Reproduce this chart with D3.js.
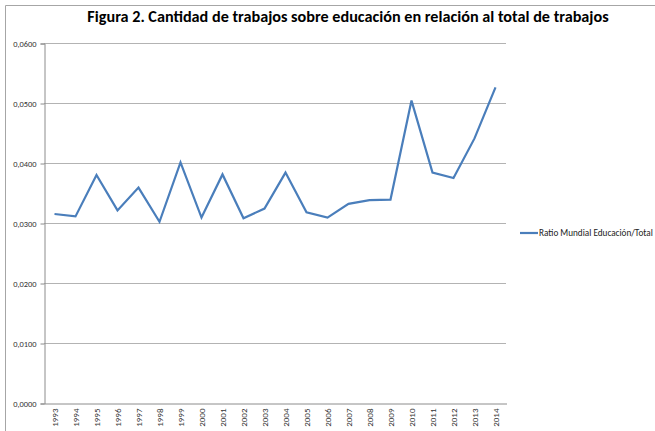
<!DOCTYPE html>
<html><head><meta charset="utf-8">
<script src="https://cdn.jsdelivr.net/npm/d3@7"></script>
<style>body{margin:0;background:#fff;} svg{display:block;}</style>
</head><body>
<svg id="c" width="655" height="431"></svg>
<script>
const years = ["1993","1994","1995","1996","1997","1998","1999","2000","2001","2002","2003","2004","2005","2006","2007","2008","2009","2010","2011","2012","2013","2014"];
const ratio = [0.0315,0.0311,0.0380,0.0321,0.0359,0.0302,0.0401,0.0309,0.0381,0.0308,0.0324,0.0384,0.0318,0.0309,0.0332,0.0338,0.0339,0.0504,0.0384,0.0375,0.0441,0.0526];
const yTicks = [0,0.01,0.02,0.03,0.04,0.05,0.06];
const seriesName = "Ratio Mundial Educación/Total";
const title = "Figura 2. Cantidad de trabajos sobre educación en relación al total de trabajos";

const svg = d3.select("#c");
const font = "Carlito, Lato, 'Open Sans', sans-serif";
const m = {l:44, r:506, t:43, b:403};

// outer border (top and left)
svg.append("path").attr("d","M5.5,431 V5.5 H655").attr("fill","none").attr("stroke","#a6a6a6").attr("stroke-width",1);

svg.append("text").attr("x",348).attr("y",22).attr("text-anchor","middle")
  .attr("font-family",font).attr("font-weight","bold").attr("font-size",16.2).attr("fill","#000").text(title);

const x = d3.scaleBand().domain(years).range([m.l,m.r]);
const y = d3.scaleLinear().domain([0,0.06]).range([m.b,m.t]);

// gridlines
svg.append("g").selectAll("line").data(yTicks.filter(d=>d>0)).join("line")
  .attr("x1",m.l).attr("x2",m.r).attr("y1",d=>y(d)+0.5).attr("y2",d=>y(d)+0.5)
  .attr("stroke","#b3b3b3").attr("stroke-width",1);

// y axis
const fmt = d => d.toFixed(4).replace(".",",");
const ya = svg.append("g").attr("transform",`translate(${m.l+0.5},0.5)`)
  .call(d3.axisLeft(y).tickValues(yTicks).tickFormat(fmt).tickSize(4).tickPadding(4));
ya.select(".domain").attr("stroke","#8c8c8c");
ya.selectAll(".tick line").attr("stroke","#8c8c8c");
ya.selectAll("text").attr("font-family",font).attr("font-size",8.4).attr("fill","#333");

// x axis
const xa = svg.append("g").attr("transform",`translate(0.5,${m.b+0.5})`)
  .call(d3.axisBottom(x).tickSize(0).tickPadding(0));
xa.select(".domain").attr("stroke","#8c8c8c");
xa.selectAll(".tick text").attr("font-family",font).attr("font-size",9).attr("fill","#333")
  .attr("transform","rotate(-90)").attr("text-anchor","end").attr("dx","-5").attr("dy","0.32em")
  .attr("x",0).attr("y",0);

// line
const line = d3.line().x((d,i)=>x(years[i])+x.bandwidth()/2).y(d=>y(d));
svg.append("path").datum(ratio).attr("d",line).attr("fill","none")
  .attr("stroke","#4a7ebb").attr("stroke-width",2.2).attr("stroke-linejoin","miter");

// legend
const lg = svg.append("g").attr("transform","translate(520,233)");
lg.append("line").attr("x1",0).attr("x2",18).attr("y1",0).attr("y2",0).attr("stroke","#4a7ebb").attr("stroke-width",2.2);
lg.append("text").attr("x",19).attr("y",3).attr("font-family",font).attr("font-size",9.2).attr("fill","#222").text(seriesName);
</script>
</body></html>
